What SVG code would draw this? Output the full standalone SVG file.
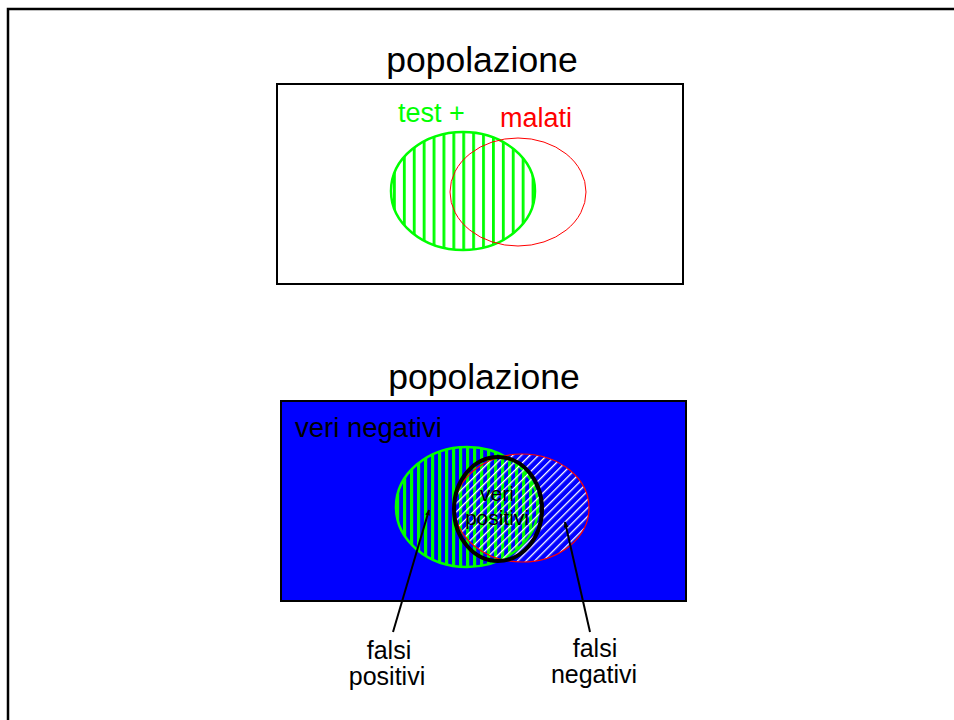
<svg xmlns="http://www.w3.org/2000/svg" width="954" height="720" viewBox="0 0 954 720">
<style>
text{font-family:"Liberation Sans",Arial,sans-serif}
.title{font-size:35.5px;fill:#000;text-anchor:middle}
.lbl{font-size:25px;fill:#000;text-anchor:middle}
.conn{stroke:#000;stroke-width:2;fill:none}
</style>
<defs>
<pattern id="vgTop" patternUnits="userSpaceOnUse" x="393" y="0" width="9.9" height="20">
<rect x="0" y="0" width="2.8" height="20" fill="#00ff00"/>
</pattern>
<pattern id="vgBot" patternUnits="userSpaceOnUse" x="396" y="0" width="7" height="20">
<rect x="0" y="0" width="3.2" height="20" fill="#00ff00"/>
</pattern>
<pattern id="diag" patternUnits="userSpaceOnUse" width="6" height="20" patternTransform="rotate(45)">
<rect x="0" y="0" width="1.3" height="20" fill="#ffffff"/>
</pattern>
<marker id="arr" viewBox="0 0 10 10" refX="9" refY="5" markerWidth="6" markerHeight="6" orient="auto" markerUnits="userSpaceOnUse">
<path d="M0,1 L10,5 L0,9 z" fill="#000"/>
</marker>
</defs>
<rect x="8" y="9" width="970" height="730" fill="#fff" stroke="#000" stroke-width="2.5"/>

<g id="top-panel">
<text class="title" x="482" y="72">popolazione</text>
<rect x="277" y="84" width="406" height="200" fill="#fff" stroke="#000" stroke-width="2"/>
</g>
<g id="top-test">
<ellipse cx="463" cy="191" rx="72" ry="59" fill="url(#vgTop)" stroke="#00ff00" stroke-width="2.5"/>
<text x="398" y="122" font-size="27" fill="#00ff00">test +</text>
</g>
<g id="top-malati">
<ellipse cx="518" cy="192" rx="68" ry="54" fill="none" stroke="#ff0000" stroke-width="1"/>
<text x="500" y="127" font-size="27" fill="#ff0000">malati</text>
</g>

<g id="bottom-panel">
<text class="title" x="484" y="389">popolazione</text>
<rect x="281" y="401" width="405" height="200" fill="#0000ff" stroke="#000" stroke-width="2"/>
<text x="295" y="437" font-size="27.5" fill="#000">veri negativi</text>
</g>
<g id="bottom-test">
<ellipse cx="467" cy="507" rx="71" ry="60" fill="url(#vgBot)" stroke="#00ff00" stroke-width="2.5"/>
</g>
<g id="bottom-malati">
<ellipse cx="522" cy="508" rx="67" ry="54" fill="url(#diag)" stroke="#ff0000" stroke-width="1.2"/>
</g>
<g id="veri-positivi">
<ellipse cx="498" cy="509" rx="44" ry="52" fill="none" stroke="#000" stroke-width="4"/>
<text x="497" y="501" font-size="21" fill="#000" text-anchor="middle">veri</text>
<text x="497" y="525" font-size="21" fill="#000" text-anchor="middle">positivi</text>
</g>

<g id="falsi-positivi">
<text class="lbl" x="389" y="659">falsi</text>
<text class="lbl" x="387" y="685">positivi</text>
</g>
<g id="falsi-negativi">
<text class="lbl" x="595" y="657">falsi</text>
<text class="lbl" x="594" y="683">negativi</text>
</g>

<g id="connectors">
<line class="conn" x1="393" y1="632" x2="429" y2="510" marker-end="url(#arr)"/>
<line class="conn" x1="590" y1="632" x2="565" y2="522" marker-end="url(#arr)"/>
</g>
</svg>
